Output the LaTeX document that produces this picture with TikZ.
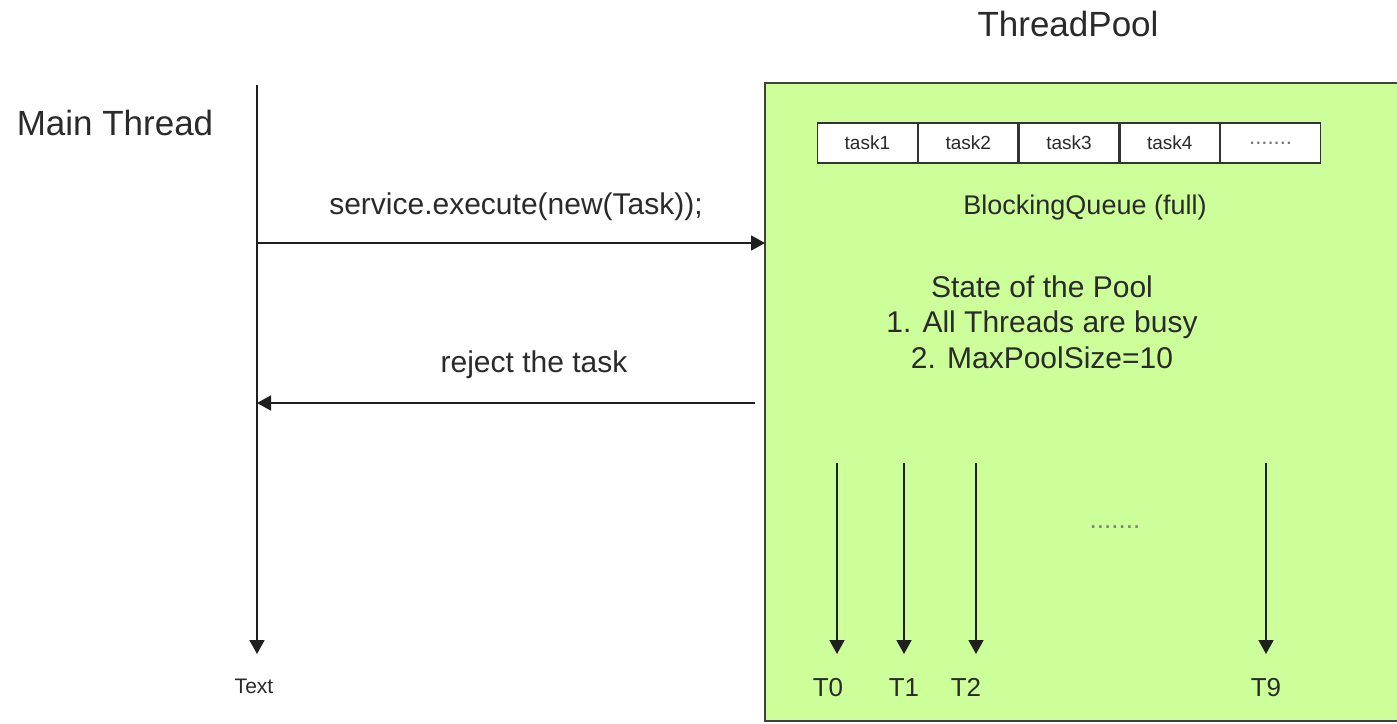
\documentclass[tikz,border=0pt]{standalone}
\usepackage{fontspec}
\setmainfont{Liberation Sans}
\usetikzlibrary{arrows.meta}
\definecolor{poolgreen}{HTML}{CCFF99}
\definecolor{txt}{HTML}{2A2A2A}
\tikzset{
  lbl/.style={inner sep=0pt, text=txt},
  conn/.style={line width=1.7pt, draw=black!88, -{Triangle[length=14pt,width=15pt]}},
  cell/.style={draw=black!80, line width=1.2pt, fill=white, minimum width=99.6pt, minimum height=40pt, inner sep=0pt, font=\fontsize{19}{22}\selectfont, text=txt, anchor=west},
}
\begin{document}
\begin{tikzpicture}[x=1pt,y=-1pt]
\useasboundingbox (0,0) rectangle (1397,723);
% pool box
\path[draw=black!75, line width=1.4pt, fill=poolgreen] (765,83) rectangle (1402,721);
\node[lbl, font=\fontsize{35}{40}\selectfont] (tp) at (1068,24) {ThreadPool};
\node[lbl, font=\fontsize{35}{40}\selectfont] (mt) at (115,123) {Main Thread};
% main thread lifeline
\coordinate (mtop) at (257,85);
\node[lbl, font=\fontsize{21}{24}\selectfont] (text) at (254,686) {Text};
\coordinate (mend) at (257,654);
\draw[conn] (mtop) -- (mend);
% execute arrow
\coordinate (ex1) at (257,243);
\coordinate (ex2) at (765,243);
\draw[conn] (ex1) -- (ex2);
\node[lbl, font=\fontsize{30}{34}\selectfont] (exl) at (516,207) {service.execute(new(Task));};
% reject arrow
\coordinate (rj1) at (755,403);
\coordinate (rj2) at (257,403);
\draw[conn] (rj1) -- (rj2);
\node[lbl, font=\fontsize{30}{34}\selectfont] (rjl) at (534,365) {reject the task};
% queue
\node[cell] (q1) at (817,143) {task1};
\node[cell] (q2) at (q1.east) {task2};
\node[cell] (q3) at (q2.east) {task3};
\node[cell] (q4) at (q3.east) {task4};
\node[cell, text=black!55, font=\fontsize{22}{22}\selectfont] (q5) at (q4.east) {.......};
\node[lbl, font=\fontsize{27}{30}\selectfont] (bq) at (1085,208) {BlockingQueue (full)};
\node[lbl, align=center, font=\fontsize{30}{35.5}\selectfont] (state) at (1042,322) {State of the Pool\\1. All Threads are busy\\2. MaxPoolSize=10};
% threads
\foreach \n/\x/\lx in {T0/837/828, T1/904/904, T2/976/966, T9/1266/1266}{
  \coordinate (\n top) at (\x,463);
  \coordinate (\n end) at (\x,654);
  \draw[conn] (\n top) -- (\n end);
  \node[lbl, anchor=base, font=\fontsize{26}{30}\selectfont] (\n) at (\lx,696) {\n};
}
\node[lbl, font=\fontsize{26}{26}\selectfont, text=black!50] (dots) at (1115,527) {.......};
\end{tikzpicture}
\end{document}
